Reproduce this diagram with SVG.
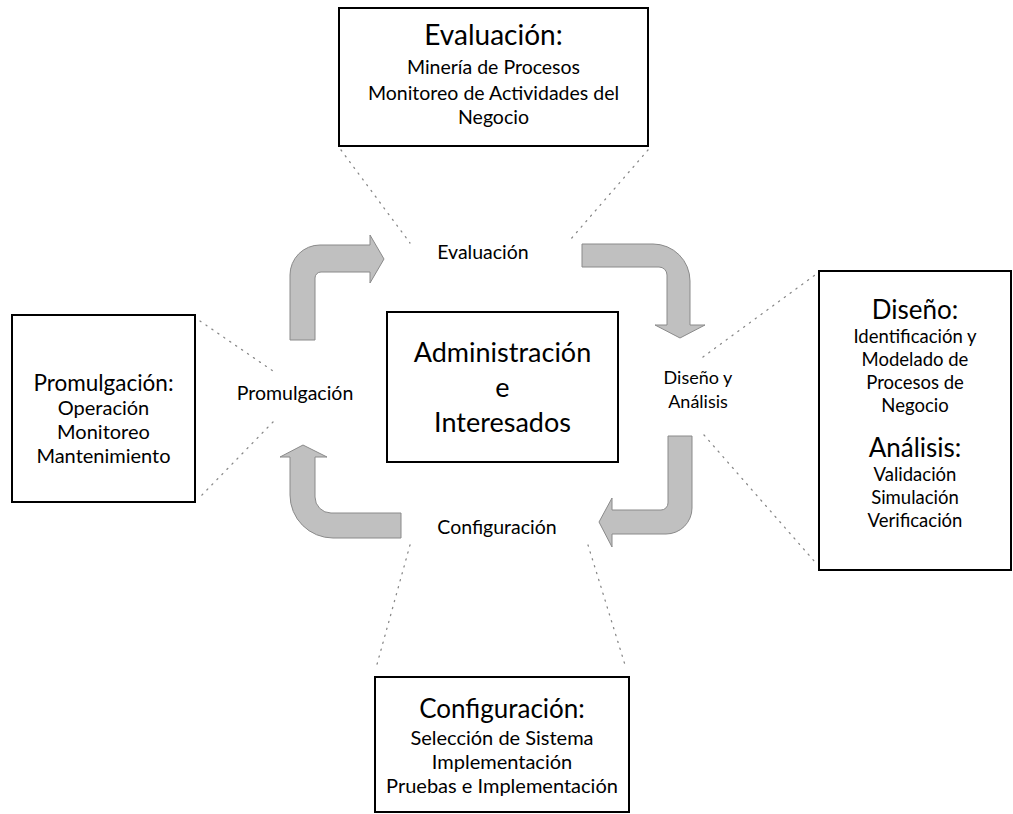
<svg xmlns="http://www.w3.org/2000/svg" width="1013" height="814" viewBox="0 0 1013 814">
<style>
text{font-family:Lato,"Open Sans","Liberation Sans",sans-serif;fill:#000;text-anchor:middle}
.box{fill:#fff;stroke:#000;stroke-width:2}
.arrow{fill:#c0c0c0;stroke:#8a8a8a;stroke-width:1}
.dot{fill:none;stroke:#888;stroke-width:1.3;stroke-dasharray:1.2 6;stroke-linecap:round}
.lbl{font-size:19.5px}
.center{font-size:27px}
</style>
<g id="connectors">
<path class="dot" d="M341,150 L410,243"/>
<path class="dot" d="M648,150 L570,240"/>
<path class="dot" d="M200,321 L273,371"/>
<path class="dot" d="M273,422 L200,497"/>
<path class="dot" d="M703,357 L815,275"/>
<path class="dot" d="M704,435 L815,562"/>
<path class="dot" d="M410,545 L376,668"/>
<path class="dot" d="M588,545 L626,668"/>
<path class="arrow" d="M290,340 L290,275 A30,30 0 0 1 320,245 L370,245 L370,235 L384,259 L370,283 L370,272 L321,272 A6,6 0 0 0 315,278 L315,340 Z"/>
<path class="arrow" d="M582,244 L653,244 A37,37 0 0 1 690,281 L690,325 L705,325 L680,338 L655,325 L667,325 L667,275 A8,8 0 0 0 659,267 L582,267 Z"/>
<path class="arrow" d="M668,436 L692,436 L692,508 A26,26 0 0 1 666,534 L612,534 L612,547 L599,522 L612,498 L612,510 L661,510 A7,7 0 0 0 668,503 Z"/>
<path class="arrow" d="M303,445 L327,457 L315,457 L315,497 A16,16 0 0 0 331,513 L401,513 L401,538 L333,538 A43,43 0 0 1 290,495 L290,457 L280,457 Z"/>
</g>
<g id="center">
<rect class="box" x="387" y="312" width="231" height="150"/>
<text class="center" x="502.5" y="362">Administración</text>
<text class="center" x="502.5" y="397">e</text>
<text class="center" x="502.5" y="432">Interesados</text>
</g>
<g id="evaluacion-label"><text class="lbl" x="483" y="259">Evaluación</text></g>
<g id="promulgacion-label"><text class="lbl" x="295" y="400">Promulgación</text></g>
<g id="diseno-label"><text x="698" y="384" font-size="18">Diseño y</text><text x="698" y="408" font-size="18">Análisis</text></g>
<g id="configuracion-label"><text class="lbl" x="497" y="534">Configuración</text></g>
<g id="evaluacion">
<rect class="box" x="339" y="8" width="309" height="138"/>
<text x="493.5" y="45" font-size="28">Evaluación:</text>
<text x="493.5" y="74" font-size="19.5">Minería de Procesos</text>
<text x="493.5" y="100" font-size="19.5">Monitoreo de Actividades del</text>
<text x="493.5" y="124" font-size="19.5">Negocio</text>
</g>
<g id="promulgacion">
<rect class="box" x="12" y="315" width="183" height="187"/>
<text x="103.5" y="391" font-size="22.5">Promulgación:</text>
<text x="103.5" y="415" font-size="20">Operación</text>
<text x="103.5" y="439" font-size="20">Monitoreo</text>
<text x="103.5" y="463" font-size="20">Mantenimiento</text>
</g>
<g id="diseno">
<rect class="box" x="819" y="271" width="192" height="299"/>
<text x="915" y="319" font-size="26">Diseño:</text>
<text x="915" y="343" font-size="18.5">Identificación y</text>
<text x="915" y="366" font-size="18.5">Modelado de</text>
<text x="915" y="389" font-size="18.5">Procesos de</text>
<text x="915" y="412" font-size="18.5">Negocio</text>
<text x="915" y="457" font-size="26">Análisis:</text>
<text x="915" y="481" font-size="18.5">Validación</text>
<text x="915" y="504" font-size="18.5">Simulación</text>
<text x="915" y="527" font-size="18.5">Verificación</text>
</g>
<g id="configuracion">
<rect class="box" x="375" y="677" width="254" height="135"/>
<text x="502" y="718" font-size="26">Configuración:</text>
<text x="502" y="745" font-size="20">Selección de Sistema</text>
<text x="502" y="769" font-size="20">Implementación</text>
<text x="502" y="793" font-size="20">Pruebas e Implementación</text>
</g>
</svg>
